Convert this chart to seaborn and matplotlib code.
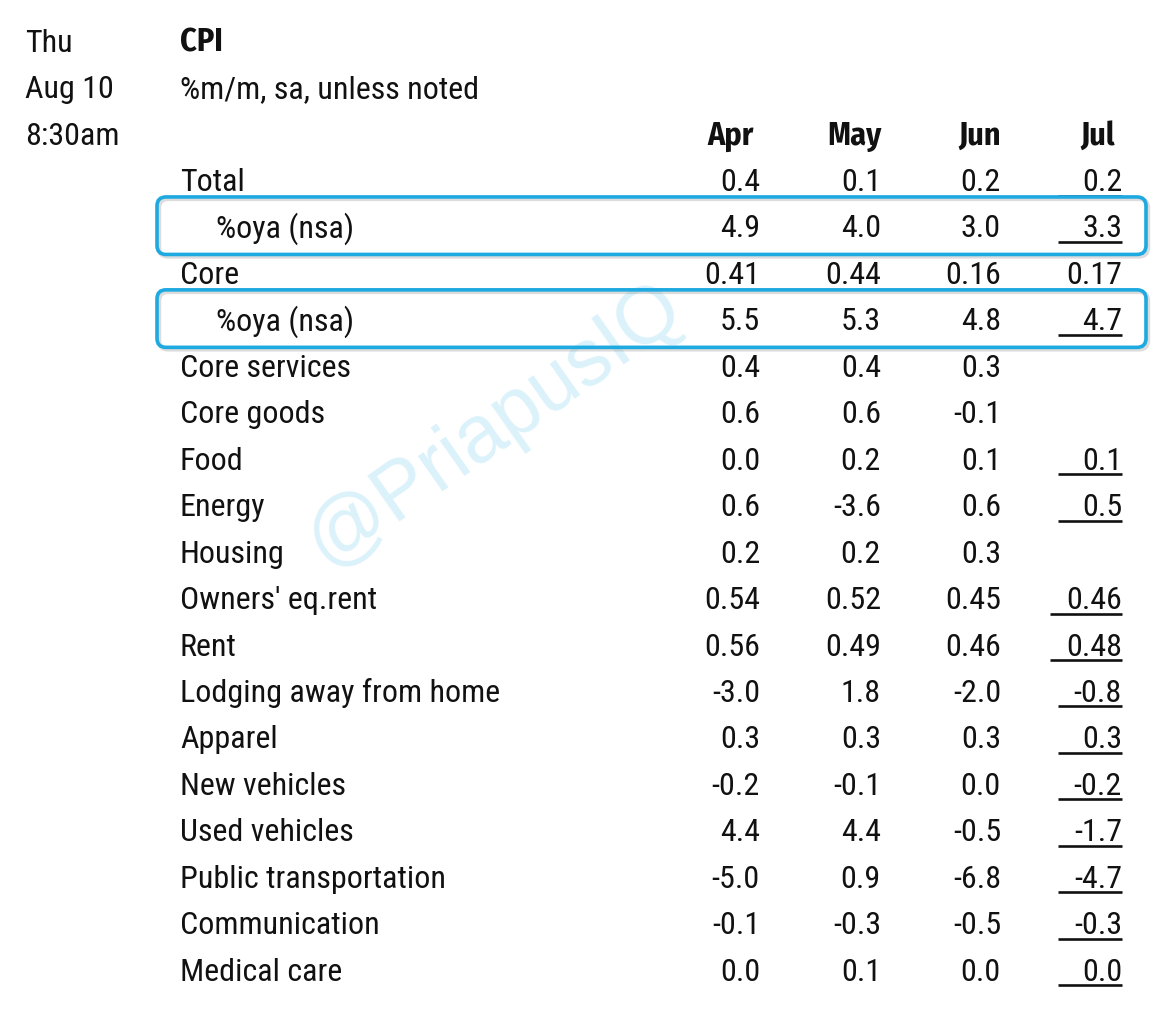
import matplotlib
matplotlib.use('Agg')
import matplotlib.pyplot as plt
from matplotlib.patches import FancyBboxPatch
import seaborn as sns

# Données du tableau CPI
labels = ['Total', '%oya (nsa)', 'Core', '%oya (nsa)', 'Core services', 'Core goods',
          'Food', 'Energy', 'Housing', "Owners' eq.rent", 'Rent', 'Lodging away from home',
          'Apparel', 'New vehicles', 'Used vehicles', 'Public transportation',
          'Communication', 'Medical care']
indented = [False, True, False, True] + [False] * 14
months = ['Apr', 'May', 'Jun', 'Jul']
apr = ['0.4', '4.9', '0.41', '5.5', '0.4', '0.6', '0.0', '0.6', '0.2', '0.54', '0.56',
       '-3.0', '0.3', '-0.2', '4.4', '-5.0', '-0.1', '0.0']
may = ['0.1', '4.0', '0.44', '5.3', '0.4', '0.6', '0.2', '-3.6', '0.2', '0.52', '0.49',
       '1.8', '0.3', '-0.1', '4.4', '0.9', '-0.3', '0.1']
jun = ['0.2', '3.0', '0.16', '4.8', '0.3', '-0.1', '0.1', '0.6', '0.3', '0.45', '0.46',
       '-2.0', '0.3', '0.0', '-0.5', '-6.8', '-0.5', '0.0']
jul = ['0.2', '3.3', '0.17', '4.7', '', '', '0.1', '0.5', '', '0.46', '0.48',
       '-0.8', '0.3', '-0.2', '-1.7', '-4.7', '-0.3', '0.0']
jul_underlined = [True, True, False, True, False, False, True, True, False, True, True,
                  True, True, True, True, True, True, True]
highlighted = [1, 3]
date_lines = ['Thu', 'Aug 10', '8:30am']
title = 'CPI'
subtitle = '%m/m, sa, unless noted'

sns.set_theme(style='white')
plt.rcParams['font.family'] = ['Roboto Condensed', 'DejaVu Sans']
bold_family = ['Fira Sans Condensed', 'Roboto Condensed', 'DejaVu Sans']

fig = plt.figure(figsize=(11.59, 10.28), dpi=100)
ax = fig.add_axes([0, 0, 1, 1])
ax.set_xlim(0, 1159)
ax.set_ylim(1028, 0)
ax.axis('off')

fs = 23
ink = '#111111'
step = 46.45
base0 = 191          # ligne de base de la première ligne (Total)
col_right = [760, 881, 1001, 1122]
head_right = [754, 882, 1001, 1115]
label_x = 180

def baseline(i):
    return base0 + i * step

# filigrane
ax.text(495, 425, '@PriapusIQ', fontsize=58, rotation=35, color='#dcf2fb',
        family=['Liberation Sans', 'DejaVu Sans'], ha='center', va='center', zorder=0)

# colonne de gauche et titre
for k, t in enumerate(date_lines):
    ax.text(25, baseline(k - 3), t, fontsize=fs, color=ink, va='baseline')
ax.text(label_x, baseline(-3), title, fontsize=fs, weight='bold', family=bold_family,
        color=ink, va='baseline')
ax.text(label_x, baseline(-2), subtitle, fontsize=fs, color=ink, va='baseline')

# en-têtes
for m, xr in zip(months, head_right):
    ax.text(xr, baseline(-1), m, fontsize=fs, weight='bold', family=bold_family,
            color=ink, ha='right', va='baseline')

# lignes
cols = [apr, may, jun, jul]
for i, lab in enumerate(labels):
    y = baseline(i)
    ax.text(label_x + (36 if indented[i] else 0), y, lab, fontsize=fs, color=ink,
            va='baseline', zorder=3)
    for vals, xr in zip(cols, col_right):
        if vals[i]:
            ax.text(xr, y, vals[i], fontsize=fs, color=ink, ha='right',
                    va='baseline', zorder=3)
    if jul_underlined[i]:
        v = jul[i]
        w = 72 if len(v.split('.')[-1]) == 2 else 64
        ax.plot([col_right[3] - w, col_right[3]], [y + 4.5, y + 4.5],
                color=ink, lw=1.9, solid_capstyle='butt', zorder=3)

# cadres bleus avec une légère ombre
for i in highlighted:
    y = baseline(i)
    for dx, col, lw, a in [(2.0, '#777777', 3.2, 0.25), (0.0, '#1ea9e1', 2.6, 1.0)]:
        box = FancyBboxPatch((157 + dx, y - 40.5 + dx), 989, 57.5,
                             boxstyle='round,pad=0,rounding_size=9',
                             fill=False, edgecolor=col, lw=lw, alpha=a, zorder=4)
        ax.add_patch(box)

fig.savefig('out.png', dpi=100, facecolor='white')
